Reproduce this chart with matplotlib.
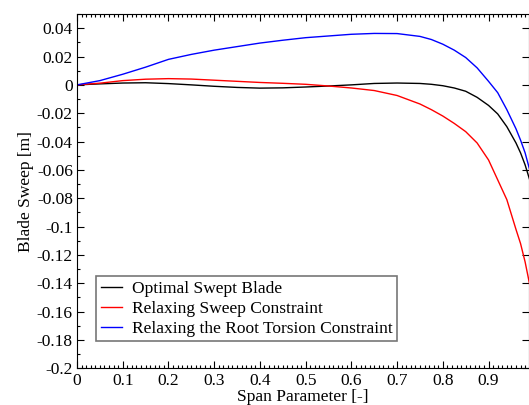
import numpy as np
import matplotlib
matplotlib.use("Agg")
import matplotlib.pyplot as plt
from matplotlib.ticker import MultipleLocator, FormatStrFormatter

plt.rcParams['font.family'] = ['Liberation Serif', 'DejaVu Serif']
plt.rcParams['axes.unicode_minus'] = False

# span parameter samples
span = [0.0, 0.05, 0.1, 0.15, 0.2, 0.25, 0.3, 0.35, 0.4, 0.45, 0.5, 0.55,
        0.6, 0.65, 0.7, 0.75, 0.775, 0.8, 0.825, 0.85, 0.875, 0.9, 0.92,
        0.94, 0.96, 0.97, 0.98, 0.99]

optimal = [0.0, 0.0007, 0.0013, 0.0015, 0.0009, 0.0, -0.0010, -0.0018,
           -0.0023, -0.0021, -0.0015, -0.0008, 0.0, 0.0010, 0.0013, 0.0010,
           0.0004, -0.0006, -0.0022, -0.0045, -0.0088, -0.0145, -0.0205,
           -0.0295, -0.0410, -0.0480, -0.0565, -0.0670]

relax_sweep = [0.0, 0.0012, 0.0030, 0.0040, 0.0044, 0.0041, 0.0033, 0.0025,
               0.0017, 0.0011, 0.0004, -0.0008, -0.0022, -0.0040, -0.0075,
               -0.0135, -0.0175, -0.0220, -0.0272, -0.0330, -0.0410,
               -0.0530, -0.0670, -0.0810, -0.1020, -0.1120, -0.1250, -0.1410]

relax_root = [0.0, 0.0030, 0.0075, 0.0125, 0.0180, 0.0215, 0.0245, 0.0270,
              0.0295, 0.0315, 0.0333, 0.0345, 0.0357, 0.0363, 0.0362, 0.0342,
              0.0320, 0.0287, 0.0245, 0.0193, 0.0120, 0.0025, -0.0055,
              -0.0175, -0.0310, -0.0390, -0.0480, -0.0600]

labels = ['Optimal Swept Blade', 'Relaxing Sweep Constraint',
          'Relaxing the Root Torsion Constraint']

fig = plt.figure(figsize=(5.29, 4.05), dpi=100)
ax = fig.add_axes([0.1456, 0.0906, 0.854, 0.8748])

ax.plot(span, optimal, color='black', lw=1.0, label=labels[0])
ax.plot(span, relax_sweep, color='red', lw=1.0, label=labels[1])
ax.plot(span, relax_root, color='blue', lw=1.0, label=labels[2])

ax.set_xlim(0, 0.988)
ax.set_ylim(-0.2, 0.05)
ax.xaxis.set_major_locator(MultipleLocator(0.1))
ax.xaxis.set_minor_locator(MultipleLocator(0.01))
ax.yaxis.set_major_locator(MultipleLocator(0.02))
ax.yaxis.set_minor_locator(MultipleLocator(0.01))
ax.xaxis.set_major_formatter(FormatStrFormatter('%g'))
ax.yaxis.set_major_formatter(FormatStrFormatter('%g'))

ax.tick_params(which='both', direction='in', top=True, right=True,
               labelsize=12.5, width=0.8)
ax.tick_params(which='major', length=5)
ax.tick_params(axis='x', which='major', pad=3.5)
ax.tick_params(axis='y', which='major', pad=3)
ax.tick_params(which='minor', length=2.5, right=False)

ax.set_xlabel('Span Parameter [-]', fontsize=12.5, labelpad=0)
ax.set_ylabel('Blade Sweep [m]', fontsize=12.5, labelpad=2)

leg = ax.legend(loc='lower left', bbox_to_anchor=(0.043, 0.077), fontsize=12.5,
                frameon=True, fancybox=False, handlelength=1.2,
                borderpad=0.25, labelspacing=0.22, handletextpad=0.6,
                borderaxespad=0)
leg.get_frame().set_edgecolor('#555555')
leg.get_frame().set_linewidth(1.2)

fig.savefig('out.png', dpi=100)
